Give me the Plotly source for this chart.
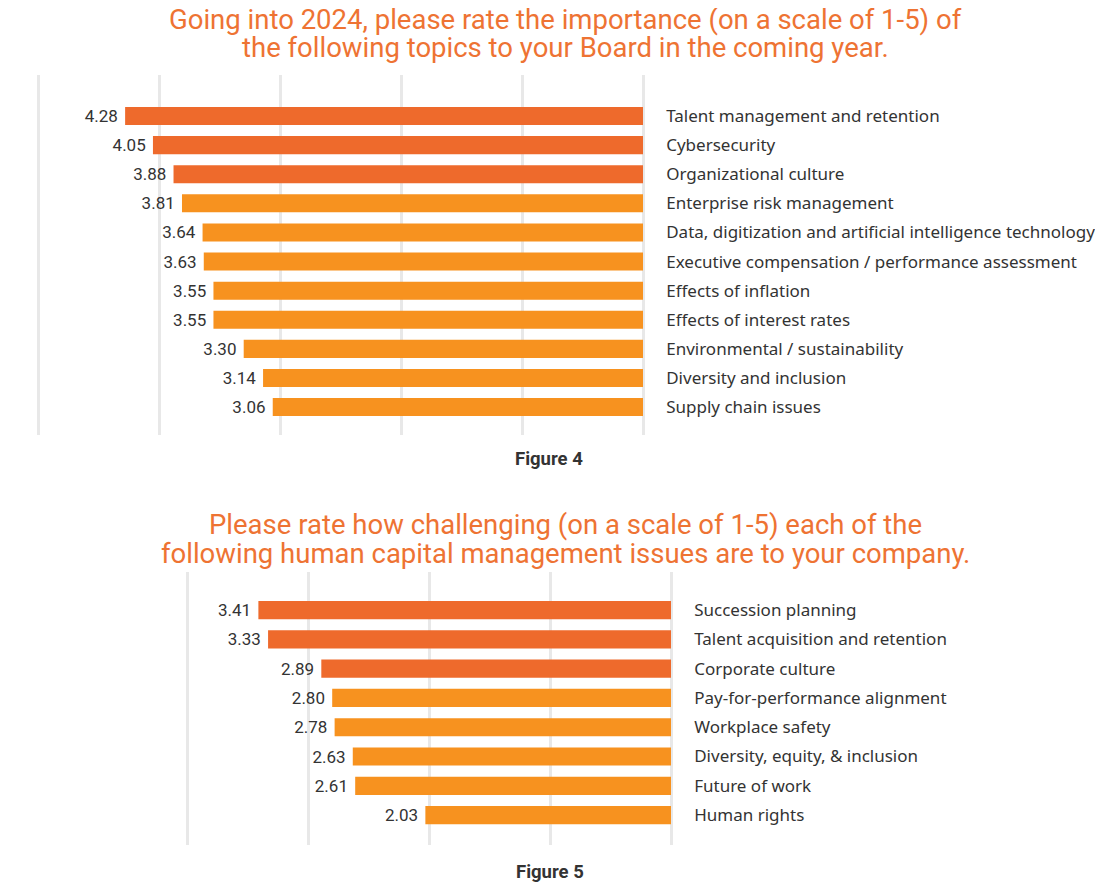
import plotly.graph_objects as go

# ---- data ----
fig4_categories = [
    "Talent management and retention",
    "Cybersecurity",
    "Organizational culture",
    "Enterprise risk management",
    "Data, digitization and artificial intelligence technology",
    "Executive compensation / performance assessment",
    "Effects of inflation",
    "Effects of interest rates",
    "Environmental / sustainability",
    "Diversity and inclusion",
    "Supply chain issues",
]
fig4_values = [4.28, 4.05, 3.88, 3.81, 3.64, 3.63, 3.55, 3.55, 3.30, 3.14, 3.06]

fig5_categories = [
    "Succession planning",
    "Talent acquisition and retention",
    "Corporate culture",
    "Pay-for-performance alignment",
    "Workplace safety",
    "Diversity, equity, & inclusion",
    "Future of work",
    "Human rights",
]
fig5_values = [3.41, 3.33, 2.89, 2.80, 2.78, 2.63, 2.61, 2.03]

fig4_title_lines = [
    "Going into 2024, please rate the importance (on a scale of 1-5) of",
    "the following topics to your Board in the coming year.",
]
fig5_title_lines = [
    "Please rate how challenging (on a scale of 1-5) each of the",
    "following human capital management issues are to your company.",
]
fig4_caption = "Figure 4"
fig5_caption = "Figure 5"

DARK = "#EE6A2C"
LIGHT = "#F7921F"
TITLE_COLOR = "#EE7333"
TEXT = "#333333"
GRID = "#E8E8E8"
NUM_FONT = "Roboto"
CAT_FONT = "Noto Sans"

# page body has an 8px margin; draw the figure 16px smaller and shift coordinates
OFF = 8
W, H = 1103 - 2 * OFF, 891 - 2 * OFF


def px(x):
    return (x - OFF) / W


def py(y):
    return 1 - (y - OFF) / H


def colors(n, n_dark=3):
    return [DARK if i < n_dark else LIGHT for i in range(n)]


def labels(vals):
    return [f"{v:.2f}\u00a0" for v in vals]


fig = go.Figure()
fig.add_trace(go.Bar(
    x=fig4_values, y=fig4_categories, orientation="h",
    marker=dict(color=colors(len(fig4_values)), line=dict(width=0)),
    width=0.62,
    text=labels(fig4_values), textposition="outside", constraintext="none",
    textfont=dict(family=NUM_FONT, size=17, color=TEXT),
    cliponaxis=False, xaxis="x", yaxis="y", showlegend=False,
))
fig.add_trace(go.Bar(
    x=fig5_values, y=fig5_categories, orientation="h",
    marker=dict(color=colors(len(fig5_values)), line=dict(width=0)),
    width=0.62,
    text=labels(fig5_values), textposition="outside", constraintext="none",
    textfont=dict(family=NUM_FONT, size=17, color=TEXT),
    cliponaxis=False, xaxis="x2", yaxis="y2", showlegend=False,
))

n4 = len(fig4_categories)
n5 = len(fig5_categories)
E = 0.01  # small pad so edge gridlines are drawn

ax_common = dict(showgrid=True, gridcolor=GRID, gridwidth=3, dtick=1, tick0=0,
                 showticklabels=False, zeroline=False, showline=False)
ay_common = dict(type="category", side="right", showgrid=False, ticks="",
                 ticklabelstandoff=21, showline=False,
                 tickfont=dict(family=CAT_FONT, size=17, color=TEXT))

x4_l, x4_r = 38, 643
x5_l, x5_r = 187, 671
u4 = (x4_r - x4_l) / 5
u5 = (x5_r - x5_l) / 4

fig.update_layout(
    width=W, height=H,
    margin=dict(l=0, r=0, t=0, b=0),
    paper_bgcolor="white", plot_bgcolor="white",
    xaxis=dict(domain=[px(x4_l - E * u4), px(x4_r + E * u4)], range=[5 + E, -E],
               anchor="y", **ax_common),
    yaxis=dict(domain=[py(435), py(75)], range=[n4 - 1 + 0.96, -1.41],
               anchor="x", **ay_common),
    xaxis2=dict(domain=[px(x5_l - E * u5), px(x5_r + E * u5)], range=[4 + E, -E],
                anchor="y2", **ax_common),
    yaxis2=dict(domain=[py(845), py(572)], range=[n5 - 1 + 1.02, -1.30],
                anchor="x2", **ay_common),
)

ann = []
for txt, y in zip(fig4_title_lines, [19.5, 48]):
    ann.append(dict(text=txt, x=px(566), y=py(y)))
for txt, y in zip(fig5_title_lines, [524, 553]):
    ann.append(dict(text=txt, x=px(566), y=py(y)))
for a in ann:
    a.update(xref="paper", yref="paper", showarrow=False, xanchor="center",
             yanchor="middle", font=dict(family=NUM_FONT, size=27.5,
                                         color=TITLE_COLOR))
for txt, x, y in [(fig4_caption, 549, 459), (fig5_caption, 550, 872)]:
    ann.append(dict(text=f"<b>{txt}</b>", x=px(x), y=py(y), xref="paper", yref="paper",
                    showarrow=False, xanchor="center", yanchor="middle",
                    font=dict(family=NUM_FONT, size=18.5, color=TEXT)))
fig.update_layout(annotations=ann)

fig.write_html("out.html")
